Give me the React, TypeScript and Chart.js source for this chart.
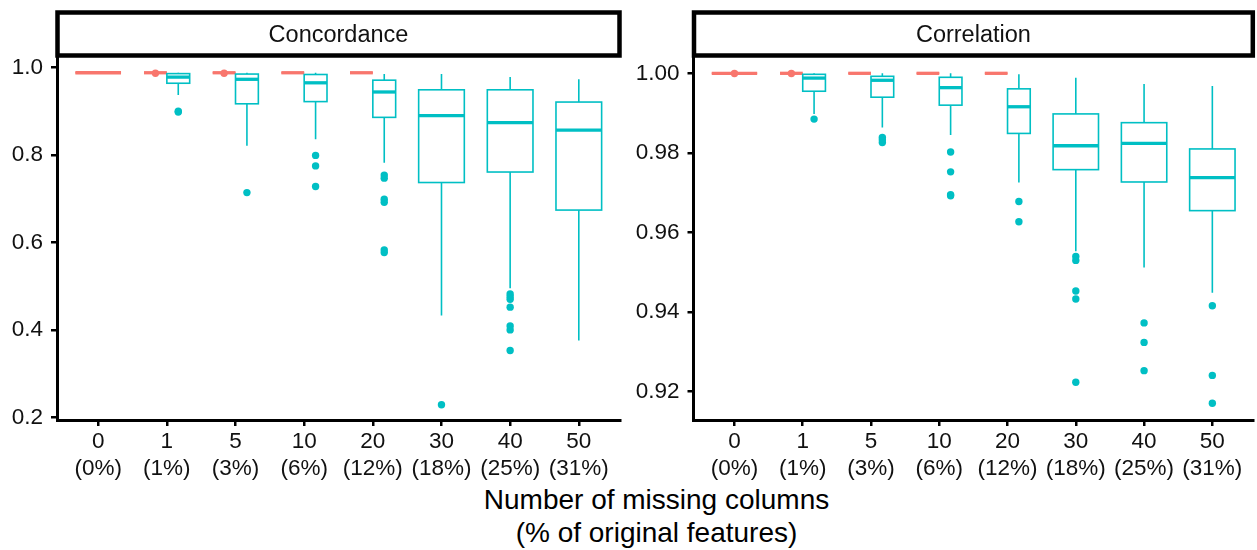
import React, { useEffect, useRef } from "react";
import { Chart, registerables } from "chart.js";

Chart.register(...registerables);

const FONT = '"Liberation Sans", Arial, Helvetica, sans-serif';
const CYAN = "#00BFC4";
const RED = "#F8766D";

// ---- shared x categories ----
const missingColumns = ["0", "1", "5", "10", "20", "30", "40", "50"];
const missingPercent = ["(0%)", "(1%)", "(3%)", "(6%)", "(12%)", "(18%)", "(25%)", "(31%)"];

// ---- Concordance panel ----
const concTicks = [0.2, 0.4, 0.6, 0.8, 1.0];
const concMin = 0.194;
const concMax = 1.024;

// reference series (red)
const concRedCats = [0, 1, 2, 3, 4];
const concRedLow = [0.988, 0.988, 0.988, 0.988, 0.988];
const concRedQ1 = [0.988, 0.988, 0.988, 0.988, 0.988];
const concRedMed = [0.988, 0.988, 0.988, 0.988, 0.988];
const concRedQ3 = [0.988, 0.988, 0.988, 0.988, 0.988];
const concRedHigh = [0.988, 0.988, 0.988, 0.988, 0.988];
const concRedOut = [[], [0.987], [0.987], [], []];

// missing-column series (cyan)
const concCyanCats = [1, 2, 3, 4, 5, 6, 7];
const concCyanLow = [0.937, 0.821, 0.836, 0.782, 0.433, 0.495, 0.376];
const concCyanQ1 = [0.964, 0.917, 0.922, 0.886, 0.737, 0.761, 0.674];
const concCyanMed = [0.978, 0.973, 0.965, 0.944, 0.89, 0.874, 0.857];
const concCyanQ3 = [0.986, 0.985, 0.984, 0.971, 0.949, 0.949, 0.921];
const concCyanHigh = [0.988, 0.988, 0.988, 0.985, 0.985, 0.978, 0.973];
const concCyanOut = [
  [0.9, 0.898],
  [0.714],
  [0.799, 0.775, 0.728],
  [0.754, 0.747, 0.699, 0.692, 0.583, 0.577],
  [0.229],
  [0.482, 0.476, 0.47, 0.452, 0.409, 0.4, 0.353],
  [],
];

// ---- Correlation panel ----
const corrTicks = [0.92, 0.94, 0.96, 0.98, 1.0];
const corrMin = 0.9129;
const corrMax = 1.0041;

const corrRedCats = [0, 1, 2, 3, 4];
const corrRedLow = [1.0, 1.0, 1.0, 1.0, 1.0];
const corrRedQ1 = [1.0, 1.0, 1.0, 1.0, 1.0];
const corrRedMed = [1.0, 1.0, 1.0, 1.0, 1.0];
const corrRedQ3 = [1.0, 1.0, 1.0, 1.0, 1.0];
const corrRedHigh = [1.0, 1.0, 1.0, 1.0, 1.0];
const corrRedOut = [[0.99995], [0.99995], [], [], []];

const corrCyanCats = [1, 2, 3, 4, 5, 6, 7];
const corrCyanLow = [0.9898, 0.9864, 0.9845, 0.9726, 0.9553, 0.9512, 0.9449];
const corrCyanQ1 = [0.9955, 0.994, 0.992, 0.9849, 0.9758, 0.9727, 0.9655];
const corrCyanMed = [0.9988, 0.99825, 0.9964, 0.9916, 0.9818, 0.9824, 0.9738];
const corrCyanQ3 = [0.99975, 0.99925, 0.999, 0.9961, 0.9898, 0.9876, 0.981];
const corrCyanHigh = [1.0, 1.0, 1.0, 0.99975, 0.9989, 0.9973, 0.9968];
const corrCyanOut = [
  [0.9885],
  [0.9839, 0.98325, 0.9826],
  [0.98025, 0.97525, 0.9695, 0.96925],
  [0.9678, 0.9627],
  [0.954, 0.953, 0.9453, 0.9433, 0.9224],
  [0.9373, 0.9324, 0.9253],
  [0.9416, 0.9241, 0.9171],
];

type Series = {
  cats: number[];
  low: number[];
  q1: number[];
  med: number[];
  q3: number[];
  high: number[];
  out: number[][];
  color: string;
};

const BOX_WIDTH = 0.665;

function buildMarks(seriesList: Series[]) {
  const boxes: any[] = [];
  const pointSets: { color: string; data: { x: number; y: number }[] }[] = [];
  seriesList.forEach((s, si) => {
    const pts: { x: number; y: number }[] = [];
    s.cats.forEach((c, i) => {
      const present = seriesList
        .map((o, oi) => (o.cats.includes(c) ? oi : -1))
        .filter((v) => v >= 0);
      const n = present.length;
      const k = present.indexOf(si);
      const w = BOX_WIDTH / n;
      const center = c - BOX_WIDTH / 2 + (k + 0.5) * w;
      boxes.push({
        x: center,
        w,
        low: s.low[i],
        q1: s.q1[i],
        med: s.med[i],
        q3: s.q3[i],
        high: s.high[i],
        color: s.color,
      });
      s.out[i].forEach((v) => pts.push({ x: center, y: v }));
    });
    pointSets.push({ color: s.color, data: pts });
  });
  return { boxes, pointSets };
}

const boxPlugin = {
  id: "boxplot",
  beforeDatasetsDraw(chart: any, _args: any, opts: any) {
    const { ctx } = chart;
    const xs = chart.scales.x;
    const ys = chart.scales.y;
    ctx.save();
    ctx.lineCap = "butt";
    for (const b of opts.boxes || []) {
      const xc = xs.getPixelForValue(b.x);
      const x0 = xs.getPixelForValue(b.x - b.w / 2);
      const x1 = xs.getPixelForValue(b.x + b.w / 2);
      const yLow = ys.getPixelForValue(b.low);
      const yQ1 = ys.getPixelForValue(b.q1);
      const yMed = ys.getPixelForValue(b.med);
      const yQ3 = ys.getPixelForValue(b.q3);
      const yHigh = ys.getPixelForValue(b.high);
      ctx.strokeStyle = b.color;
      ctx.lineWidth = 1.6;
      ctx.beginPath();
      ctx.moveTo(xc, yQ3);
      ctx.lineTo(xc, yHigh);
      ctx.moveTo(xc, yQ1);
      ctx.lineTo(xc, yLow);
      ctx.stroke();
      ctx.fillStyle = "#ffffff";
      ctx.fillRect(x0, yQ3, x1 - x0, yQ1 - yQ3);
      ctx.strokeRect(x0, yQ3, x1 - x0, yQ1 - yQ3);
      ctx.lineWidth = 3.3;
      ctx.beginPath();
      ctx.moveTo(x0, yMed);
      ctx.lineTo(x1, yMed);
      ctx.stroke();
    }
    ctx.restore();
  },
};

const stripPlugin = {
  id: "strip",
  afterDraw(chart: any) {
    const { ctx, chartArea } = chart;
    ctx.save();
    ctx.strokeStyle = "#000";
    ctx.lineWidth = 4.5;
    ctx.strokeRect(chartArea.left + 0.5, 12.5, chartArea.right - chartArea.left - 1, 43);
    ctx.restore();
  },
};

type PanelProps = {
  title: string;
  series: Series[];
  ticks: number[];
  min: number;
  max: number;
  decimals: number;
  left: number;
  width: number;
  axisWidth: number;
  padRight: number;
};

function Panel(p: PanelProps) {
  const ref = useRef<HTMLCanvasElement>(null);
  useEffect(() => {
    const { boxes, pointSets } = buildMarks(p.series);
    const tickFont = { family: FONT, size: 22.5 };
    const gridOpts = {
      display: true,
      drawOnChartArea: false,
      drawTicks: true,
      tickLength: 6,
      color: "#000",
      lineWidth: 2.5,
    };
    const borderOpts = { display: true, color: "#000", width: 3 };
    const chart = new Chart(ref.current as HTMLCanvasElement, {
      type: "scatter",
      data: {
        datasets: pointSets.map((ps) => ({
          data: ps.data,
          pointRadius: 3.7,
          pointHoverRadius: 3.7,
          pointBackgroundColor: ps.color,
          pointBorderWidth: 0,
          borderColor: ps.color,
          backgroundColor: ps.color,
          showLine: false,
        })),
      },
      options: {
        animation: false,
        responsive: false,
        devicePixelRatio: 1,
        events: [],
        layout: { padding: { top: 12, right: p.padRight, left: 0, bottom: 0 } },
        plugins: {
          legend: { display: false },
          tooltip: { enabled: false },
          title: {
            display: true,
            text: p.title,
            fullSize: false,
            color: "#111",
            font: { family: FONT, size: 23.5, weight: "normal", lineHeight: 1.2 },
            padding: { top: 9.4, bottom: 7.4 },
          },
          boxplot: { boxes },
        } as any,
        scales: {
          x: {
            type: "linear",
            min: -0.6,
            max: 7.6,
            afterBuildTicks: (s: any) => {
              s.ticks = missingColumns.map((_, i) => ({ value: i }));
            },
            afterFit: (s: any) => {
              s.height = 60;
            },
            ticks: {
              callback: (_v: any, i: number) => [missingColumns[i], missingPercent[i]],
              font: tickFont,
              color: "#111",
              padding: 2,
              maxRotation: 0,
              autoSkip: false,
            },
            grid: gridOpts,
            border: borderOpts,
          },
          y: {
            type: "linear",
            min: p.min,
            max: p.max,
            afterBuildTicks: (s: any) => {
              s.ticks = p.ticks.map((v) => ({ value: v }));
            },
            afterFit: (s: any) => {
              s.width = p.axisWidth;
            },
            ticks: {
              callback: (v: any) => Number(v).toFixed(p.decimals),
              font: tickFont,
              color: "#111",
              padding: 8,
            },
            grid: gridOpts,
            border: borderOpts,
          },
        } as any,
      },
      plugins: [boxPlugin, stripPlugin],
    } as any);
    return () => chart.destroy();
  }, []);
  return (
    <canvas
      ref={ref}
      width={p.width}
      height={480}
      style={{ position: "absolute", left: p.left, top: 0, width: p.width, height: 480 }}
    />
  );
}

const concSeries: Series[] = [
  { cats: concRedCats, low: concRedLow, q1: concRedQ1, med: concRedMed, q3: concRedQ3, high: concRedHigh, out: concRedOut, color: RED },
  { cats: concCyanCats, low: concCyanLow, q1: concCyanQ1, med: concCyanMed, q3: concCyanQ3, high: concCyanHigh, out: concCyanOut, color: CYAN },
];
const corrSeries: Series[] = [
  { cats: corrRedCats, low: corrRedLow, q1: corrRedQ1, med: corrRedMed, q3: corrRedQ3, high: corrRedHigh, out: corrRedOut, color: RED },
  { cats: corrCyanCats, low: corrCyanLow, q1: corrCyanQ1, med: corrCyanMed, q3: corrCyanQ3, high: corrCyanHigh, out: corrCyanOut, color: CYAN },
];

export default function App() {
  return (
    <div
      style={{
        position: "absolute",
        left: 0,
        top: 0,
        width: 1257,
        height: 550,
        background: "#ffffff",
        overflow: "hidden",
      }}
    >
      <Panel
        title="Concordance"
        series={concSeries}
        ticks={concTicks}
        min={concMin}
        max={concMax}
        decimals={1}
        left={0}
        width={630}
        axisWidth={57}
        padRight={10}
      />
      <Panel
        title="Correlation"
        series={corrSeries}
        ticks={corrTicks}
        min={corrMin}
        max={corrMax}
        decimals={2}
        left={630}
        width={627}
        axisWidth={63.5}
        padRight={1.5}
      />
      <div
        style={{
          position: "absolute",
          left: 57,
          top: 483,
          width: 1199,
          textAlign: "center",
          fontFamily: FONT,
          fontSize: 28,
          lineHeight: "33px",
          color: "#000",
        }}
      >
        Number of missing columns
        <br />
        (% of original features)
      </div>
    </div>
  );
}
